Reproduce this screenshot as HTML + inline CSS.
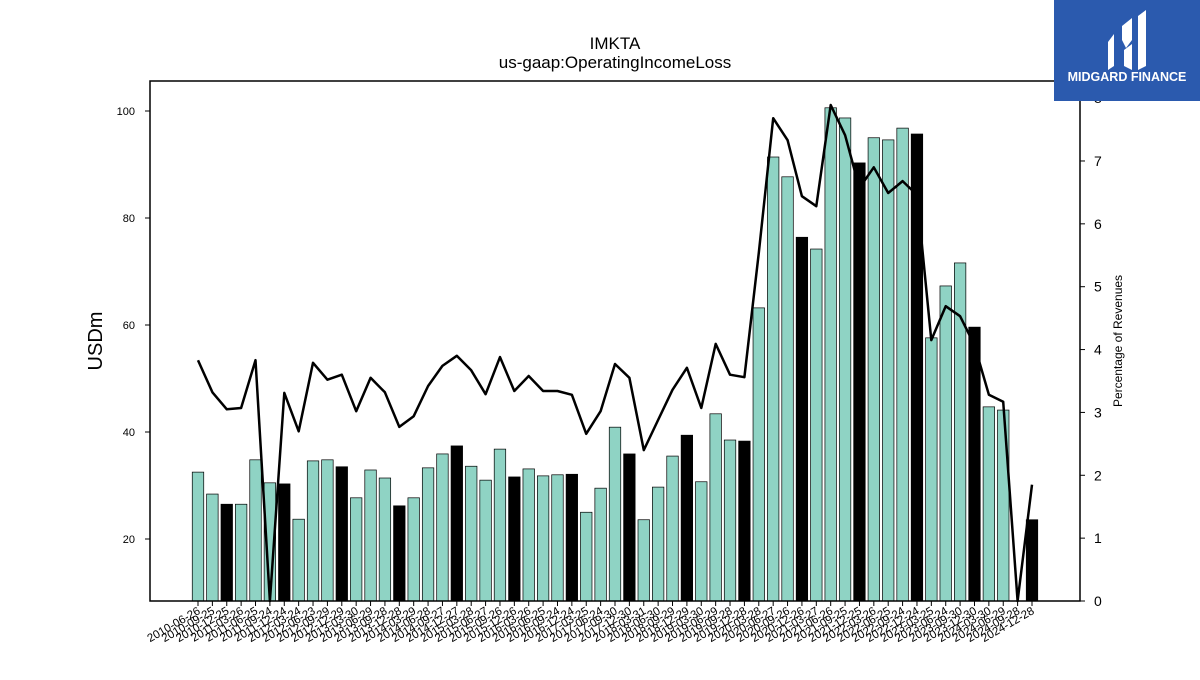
<!DOCTYPE html>
<html><head><meta charset="utf-8">
<style>
html,body{margin:0;padding:0;background:#fff;}
svg text{font-family:"Liberation Sans","DejaVu Sans",sans-serif;}
</style></head>
<body>
<svg id="chart" width="1200" height="675" viewBox="0 0 1200 675" xmlns="http://www.w3.org/2000/svg">
<rect width="1200" height="675" fill="#fff"/>
<text x="615" y="49" font-size="17" text-anchor="middle">IMKTA</text>
<text x="615" y="68" font-size="17" text-anchor="middle">us-gaap:OperatingIncomeLoss</text>
<g id="bars"></g>
<g id="line"></g>
<rect x="150" y="81" width="930" height="520" fill="none" stroke="#000" stroke-width="1.5"/>
<g id="axes"></g>
<text transform="translate(102,341) rotate(-90)" font-size="20" text-anchor="middle">USDm</text>
<text transform="translate(1122,341) rotate(-90)" font-size="12" text-anchor="middle">Percentage of Revenues</text>
<g>
<rect x="1054" y="0" width="146" height="101" fill="#2b5aae"/>
<path d="M1108 42 L1114 34 L1114 66 L1108 70 Z M1122 26 L1132 18 L1132 40 L1126 48 L1122 40 Z M1124 50 L1132 44 L1132 70 L1124 66 Z M1138 16 L1146 10 L1146 66 L1138 70 Z" fill="#fff"/>
<text x="1127" y="81" font-size="12.5" font-weight="bold" fill="#fff" text-anchor="middle">MIDGARD FINANCE</text>
</g>
</svg>
<script>
const categories=["2010-06-26","2010-09-25","2010-12-25","2011-03-26","2011-06-25","2011-09-24","2011-12-24","2012-03-24","2012-06-23","2012-09-29","2012-12-29","2013-03-30","2013-06-29","2013-09-28","2013-12-28","2014-03-29","2014-06-28","2014-09-27","2014-12-27","2015-03-28","2015-06-27","2015-09-26","2015-12-26","2016-03-26","2016-06-25","2016-09-24","2016-12-24","2017-03-25","2017-06-24","2017-09-30","2017-12-30","2018-03-31","2018-06-30","2018-09-29","2018-12-29","2019-03-30","2019-06-29","2019-09-28","2019-12-28","2020-03-28","2020-06-27","2020-09-26","2020-12-26","2021-03-27","2021-06-26","2021-09-25","2021-12-25","2022-03-26","2022-06-25","2022-09-24","2022-12-24","2023-03-25","2023-06-24","2023-09-30","2023-12-30","2024-03-30","2024-06-29","2024-09-28","2024-12-28"];
const operatingIncome=[32.5,28.4,26.5,26.5,34.8,30.5,30.3,23.7,34.6,34.8,33.5,27.7,32.9,31.4,26.2,27.7,33.3,35.9,37.4,33.6,31.0,36.8,31.6,33.1,31.8,32.0,32.1,25.0,29.5,40.9,35.9,23.6,29.7,35.5,39.4,30.7,43.4,38.5,38.3,63.2,91.4,87.7,76.4,74.2,100.6,98.7,90.3,95.0,94.6,96.8,95.7,57.6,67.3,71.6,59.6,44.7,44.1,null,23.6];
const pctRevenue=[3.83,3.32,3.05,3.07,3.83,0,3.31,2.70,3.79,3.52,3.60,3.02,3.55,3.32,2.77,2.94,3.42,3.74,3.90,3.67,3.29,3.88,3.34,3.58,3.34,3.34,3.28,2.66,3.02,3.77,3.55,2.40,2.88,3.36,3.71,3.07,4.09,3.60,3.56,5.54,7.68,7.33,6.44,6.28,7.89,7.41,6.57,6.90,6.49,6.68,6.46,4.15,4.69,4.53,4.07,3.28,3.17,0,1.85];
const leftTicks=[20,40,60,80,100];
const rightTicks=[0,1,2,3,4,5,6,7,8];

const NS="http://www.w3.org/2000/svg";
const x0=198,x1=1032;
const xs=i=>x0+(x1-x0)*i/(categories.length-1);
const yL=v=>539-(v-20)*5.35;
const yR=v=>601-v*62.86;
function mk(tag,attrs,parent){const e=document.createElementNS(NS,tag);for(const k in attrs)e.setAttribute(k,attrs[k]);parent.appendChild(e);return e;}
const bars=document.getElementById('bars');
const bw=11.5;
operatingIncome.forEach((v,i)=>{
  if(v===null)return;
  const top=yL(v);
  const r=mk('rect',{x:xs(i)-bw/2,y:top,width:bw,height:601-top,fill:(i%4===2)?'#000':'#8fd3c4',stroke:'#000','stroke-width':0.7},bars);
  
  
});
const lg=document.getElementById('line');
const d=pctRevenue.map((v,i)=>(i?'L':'M')+xs(i).toFixed(1)+' '+yR(v).toFixed(1)).join(' ');
const p=mk('path',{d:d,fill:'none',stroke:'#000','stroke-width':2.5,'stroke-linejoin':'round'},lg);


const ax=document.getElementById('axes');
leftTicks.forEach(t=>{
  const y=yL(t);
  mk('line',{x1:145,x2:150,y1:y,y2:y,stroke:'#000'},ax);
  const tx=mk('text',{x:135,y:y+4,'font-size':11,'text-anchor':'end'},ax);
  tx.textContent=t;
  
  
});
rightTicks.forEach(t=>{
  const y=yR(t);
  mk('line',{x1:1080,x2:1085,y1:y,y2:y,stroke:'#000'},ax);
  const tx=mk('text',{x:1094,y:y+5,'font-size':14},ax);
  tx.textContent=t;
  
  
});
categories.forEach((c,i)=>{
  const x=xs(i);
  mk('line',{x1:x,x2:x,y1:601,y2:606,stroke:'#000'},ax);
  const tx=mk('text',{transform:`translate(${x+3},${613}) rotate(-30)`,'font-size':11.5,'text-anchor':'end'},ax);
  tx.textContent=c;
  
  
});
</script>
</body></html>
